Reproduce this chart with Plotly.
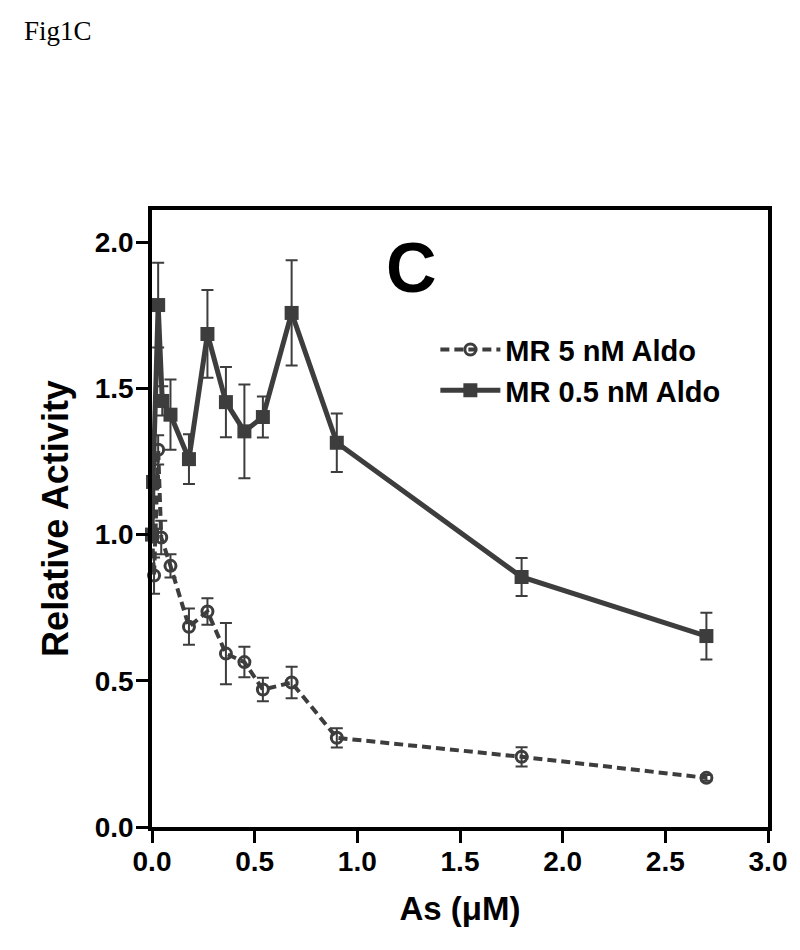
import plotly.graph_objects as go

# MR 0.5 nM Aldo (filled squares, solid line)
x_sq = [0, 0.005, 0.03, 0.05, 0.09, 0.18, 0.27, 0.36, 0.45, 0.54, 0.68, 0.9, 1.8, 2.7]
y_sq = [1.0, 1.18, 1.785, 1.457, 1.41, 1.258, 1.686, 1.453, 1.353, 1.402, 1.758, 1.314, 0.855, 0.653]
e_sq = [0.0, 0.06, 0.145, 0.05, 0.12, 0.085, 0.15, 0.12, 0.16, 0.07, 0.18, 0.10, 0.065, 0.08]

# MR 5 nM Aldo (open circles, dashed line)
x_ci = [0, 0.01, 0.03, 0.045, 0.09, 0.18, 0.27, 0.36, 0.45, 0.54, 0.68, 0.9, 1.8, 2.7]
y_ci = [1.0, 0.86, 1.29, 0.99, 0.893, 0.685, 0.737, 0.593, 0.564, 0.47, 0.494, 0.305, 0.24, 0.168]
e_ci = [0.0, 0.062, 0.05, 0.057, 0.04, 0.062, 0.045, 0.105, 0.052, 0.04, 0.054, 0.033, 0.033, 0.01]

x_ticks = [0, 0.5, 1.0, 1.5, 2.0, 2.5, 3.0]
y_ticks = [0, 0.5, 1.0, 1.5, 2.0]

col = "#3d3d3d"
sans = "Liberation Sans, Arial, sans-serif"
fig = go.Figure()
fig.add_trace(go.Scatter(
    x=x_ci, y=y_ci, name="MR 5 nM Aldo", mode="lines+markers",
    line=dict(color=col, width=4, dash="9px,5px"),
    marker=dict(symbol="circle-open", size=11, color=col, line=dict(width=3, color=col)),
    error_y=dict(type="data", array=e_ci, color=col, thickness=2, width=6),
    cliponaxis=False,
))
fig.add_trace(go.Scatter(
    x=x_sq, y=y_sq, name="MR 0.5 nM Aldo", mode="lines+markers",
    line=dict(color=col, width=5),
    marker=dict(symbol="square", size=14, color=col),
    error_y=dict(type="data", array=e_sq, color=col, thickness=2, width=6),
    cliponaxis=False,
))

axfont = dict(family=sans, size=28, color="black", weight="bold")
fig.update_layout(
    width=800, height=950,
    margin=dict(l=152, r=32, t=210, b=123),
    plot_bgcolor="white", paper_bgcolor="white",
    showlegend=True,
    legend=dict(x=0.46, y=0.815, xanchor="left", yanchor="top",
                font=dict(family=sans, size=29, color="black", weight="bold"),
                bgcolor="rgba(0,0,0,0)", tracegroupgap=0, itemwidth=60),
    xaxis=dict(range=[0, 3.0], tickvals=x_ticks, tickformat=".1f", ticks="outside",
               ticklen=12, tickwidth=3, tickcolor="black", showline=True, linewidth=3.5,
               linecolor="black", mirror=True, showgrid=False, zeroline=False,
               tickfont=axfont, ticklabelstandoff=-5,
               title=dict(text="As (μM)", font=dict(family=sans, size=33, color="black", weight="bold"), standoff=22)),
    yaxis=dict(range=[0, 2.11], tickvals=y_ticks, tickformat=".1f", ticks="outside",
               ticklen=12, tickwidth=3, tickcolor="black", showline=True, linewidth=3.5,
               linecolor="black", mirror=True, showgrid=False, zeroline=False,
               tickfont=axfont, ticklabelstandoff=-3,
               title=dict(text="Relative Activity", font=dict(family=sans, size=36, color="black", weight="bold"), standoff=16)),
)
fig.add_annotation(text="Fig1C", xref="paper", yref="paper", x=(22 - 152) / 616, y=(827 - 31) / 617,
                   xanchor="left", yanchor="middle", showarrow=False,
                   font=dict(family="Liberation Serif, Times New Roman, serif", size=27, color="black"))
fig.add_annotation(text="C", xref="paper", yref="paper", x=(411 - 152) / 616, y=(827 - 268) / 617,
                   xanchor="center", yanchor="middle", showarrow=False,
                   font=dict(family=sans, size=70, color="black", weight="bold"))
fig.write_html("out.html", config={"displayModeBar": False},
               post_script="document.body.style.margin='0';")
